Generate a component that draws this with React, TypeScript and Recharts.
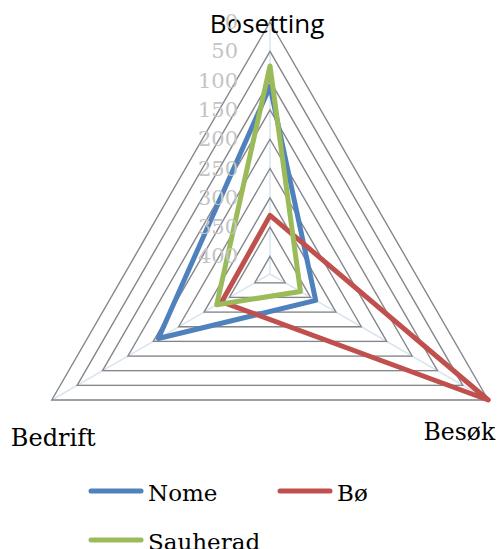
import React from 'react';
import { RadarChart, Radar, PolarGrid, PolarAngleAxis, PolarRadiusAxis, Legend } from 'recharts';

const categories = ['Bosetting', 'Besøk', 'Bedrift'];
const nomeValues = [110, 340, 210];
const boValues = [330, 0, 335];
const sauheradValues = [75, 370, 325];
const radiusTicks = [0, 50, 100, 150, 200, 250, 300, 350, 400];
const radiusDomain = [0, 430];

const series = [
  { key: 'nome', name: 'Nome', color: '#4f81bd' },
  { key: 'bo', name: 'Bø', color: '#c0504d' },
  { key: 'sauherad', name: 'Sauherad', color: '#9bbb59' },
];

const data = categories.map((c, i) => ({
  category: c,
  nome: nomeValues[i],
  bo: boValues[i],
  sauherad: sauheradValues[i],
}));

const SERIF = '"DejaVu Serif", serif';
const SANS = '"Open Sans", sans-serif';

const AngleTick = (props: any) => {
  const { x, y, payload, index } = props;
  const v = payload.value;
  if (index === 0) {
    return (
      <text x={x - 3} y={y + 19} textAnchor="middle" fontFamily={SANS} fontSize={26} fill="#000">
        {v}
      </text>
    );
  }
  if (index === 1) {
    return (
      <text x={x} y={y + 36} textAnchor="end" fontFamily={SERIF} fontSize={23.5} fill="#000">
        {v}
      </text>
    );
  }
  return (
    <text x={x - 34} y={y + 42} textAnchor="start" fontFamily={SERIF} fontSize={24} fill="#000">
      {v}
    </text>
  );
};

const RadiusTick = (props: any) => {
  const { x, y, payload } = props;
  return (
    <text x={x - 32} y={y} textAnchor="end" dominantBaseline="central" fontFamily={SERIF} fontSize={21} fill="#c4c4c4">
      {payload.value}
    </text>
  );
};

const renderLegend = () => (
  <div style={{ position: 'relative', width: 499, height: 80 }}>
    {series.map((s, i) => {
      const left = i === 1 ? 277 : 88;
      const top = i === 2 ? 49 : 0;
      return (
        <div key={s.key} style={{ position: 'absolute', left, top, display: 'flex', alignItems: 'center', height: 22 }}>
          <svg width={56} height={8} style={{ display: 'block' }}>
            <line x1={3} y1={4} x2={53} y2={4} stroke={s.color} strokeWidth={5} strokeLinecap="round" />
          </svg>
          <span style={{ fontFamily: SERIF, fontSize: 23, color: '#000', marginLeft: 4, lineHeight: '22px', position: 'relative', top: 2 }}>
            {s.name}
          </span>
        </div>
      );
    })}
  </div>
);

export default function App() {
  return (
    <div style={{ position: 'absolute', left: 0, top: 0, width: 499, height: 549, background: '#fff', overflow: 'hidden' }}>
      <RadarChart
        width={499}
        height={549}
        data={data}
        cx={270}
        cy={274}
        outerRadius={252}
        margin={{ top: 0, right: 0, bottom: 0, left: 0 }}
      >
        <PolarGrid gridType="polygon" stroke="#dbe5f1" strokeWidth={1.5} />
        <PolarGrid gridType="polygon" stroke="#868686" strokeWidth={1.3} radialLines={false} />
        <PolarAngleAxis dataKey="category" tick={AngleTick} axisLine={false} tickLine={false} />
        <PolarRadiusAxis
          angle={90}
          domain={radiusDomain}
          ticks={radiusTicks}
          reversed
          axisLine={false}
          tickLine={false}
          tick={RadiusTick}
          type="number"
        />
        {series.map((s) => (
          <Radar
            key={s.key}
            name={s.name}
            dataKey={s.key}
            stroke={s.color}
            strokeWidth={5}
            strokeLinejoin="round"
            fill="none"
            fillOpacity={0}
            dot={false}
            isAnimationActive={false}
          />
        ))}
        <Legend
          content={renderLegend}
          wrapperStyle={{ position: 'absolute', left: 0, top: 480, width: 499 }}
        />
      </RadarChart>
    </div>
  );
}
